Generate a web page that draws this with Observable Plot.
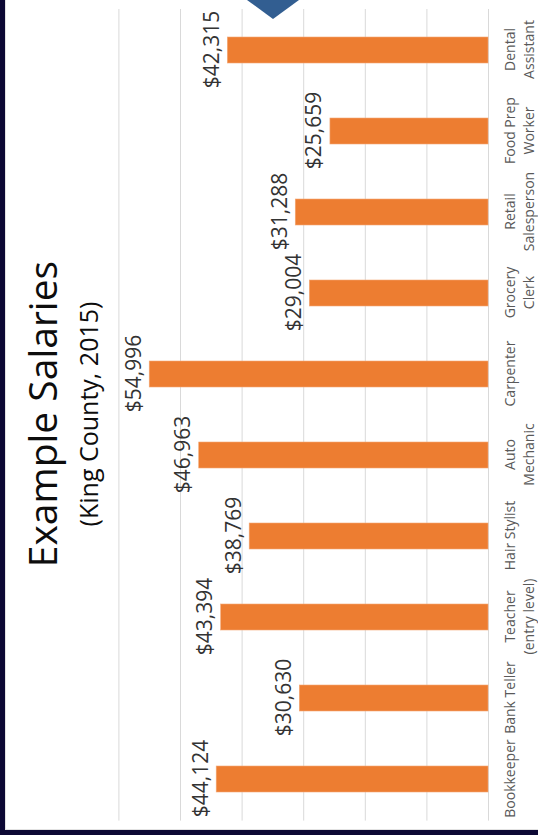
<!DOCTYPE html>
<html>
<head>
<meta charset="utf-8">
<script src="https://cdn.jsdelivr.net/npm/d3@7"></script>
<script src="https://cdn.jsdelivr.net/npm/@observablehq/plot@0.6"></script>
<style>
  html, body { margin: 0; padding: 0; background: #ffffff; }
  body { width: 538px; height: 835px; position: relative; overflow: hidden; font-family: "Open Sans", sans-serif; }
  #rot { position: absolute; left: 0; top: 0; width: 835px; height: 538px;
         transform-origin: 0 0; transform: translate(0px, 835px) rotate(-90deg); }
  #rot svg { position: absolute; left: 0; top: 0; }
  .title { position: absolute; left: 3.5px; width: 835px; text-align: center; line-height: 1; color: #0d0d0d; white-space: nowrap; }
  #t1 { top: 22px; font-size: 39px; }
  #t2 { top: 76px; font-size: 25px; }
  .navy { position: absolute; background: #0c0834; }
  .edge { position: absolute; background: #e2e2e2; }
  #tri { position: absolute; left: 247px; top: 0; width: 52px; height: 19px; background: #325e91;
         clip-path: polygon(0 0, 100% 0, 50% 100%); }
</style>
</head>
<body>
<div id="rot">
  <div id="plot"></div>
  <div class="title" id="t1">Example Salaries</div>
  <div class="title" id="t2">(King County, 2015)</div>
</div>
<div class="edge" style="left:5px;top:0;width:1px;height:830px"></div>
<div class="edge" style="left:5px;top:829px;width:533px;height:1px"></div>
<div class="navy" style="left:0;top:0;width:5px;height:835px"></div>
<div class="navy" style="left:0;top:830px;width:538px;height:5px"></div>
<div id="tri"></div>
<script>
const categories = ["Bookkeeper", "Bank Teller", "Teacher\n(entry level)", "Hair Stylist", "Auto\nMechanic",
                    "Carpenter", "Grocery\nClerk", "Retail\nSalesperson", "Food Prep\nWorker", "Dental\nAssistant"];
const salaries = [44124, 30630, 43394, 38769, 46963, 54996, 29004, 31288, 25659, 42315];
const gridTicks = [0, 10000, 20000, 30000, 40000, 50000, 60000];

const data = categories.map((c, i) => ({cat: c, value: salaries[i]}));
const fmt = d3.format(",");

const chart = Plot.plot({
  width: 835,
  height: 538,
  marginLeft: 14.4,
  marginRight: 9,
  marginTop: 118.4,
  marginBottom: 50,
  style: {fontFamily: "'Open Sans', sans-serif", background: "transparent"},
  x: {domain: categories, paddingInner: 0.683, paddingOuter: 0.34, axis: null, label: null},
  y: {domain: [0, 60000], axis: null, label: null},
  marks: [
    Plot.ruleY(gridTicks, {stroke: "#d9d9d9", strokeWidth: 1}),
    Plot.barY(data, {x: "cat", y: "value", fill: "#ED7D31", stroke: "#f3a875", strokeWidth: 0.6}),
    Plot.text(data, {x: "cat", y: "value", text: d => "$" + fmt(d.value),
                     lineAnchor: "bottom", dy: -9, fontSize: 21, fill: "#333333"}),
    Plot.axisX({tickSize: 0, tickPadding: 14, fontSize: 14, lineHeight: 1.3, fill: "#595959", color: "#595959", label: null})
  ]
});
document.getElementById("plot").appendChild(chart);
</script>
</body>
</html>
